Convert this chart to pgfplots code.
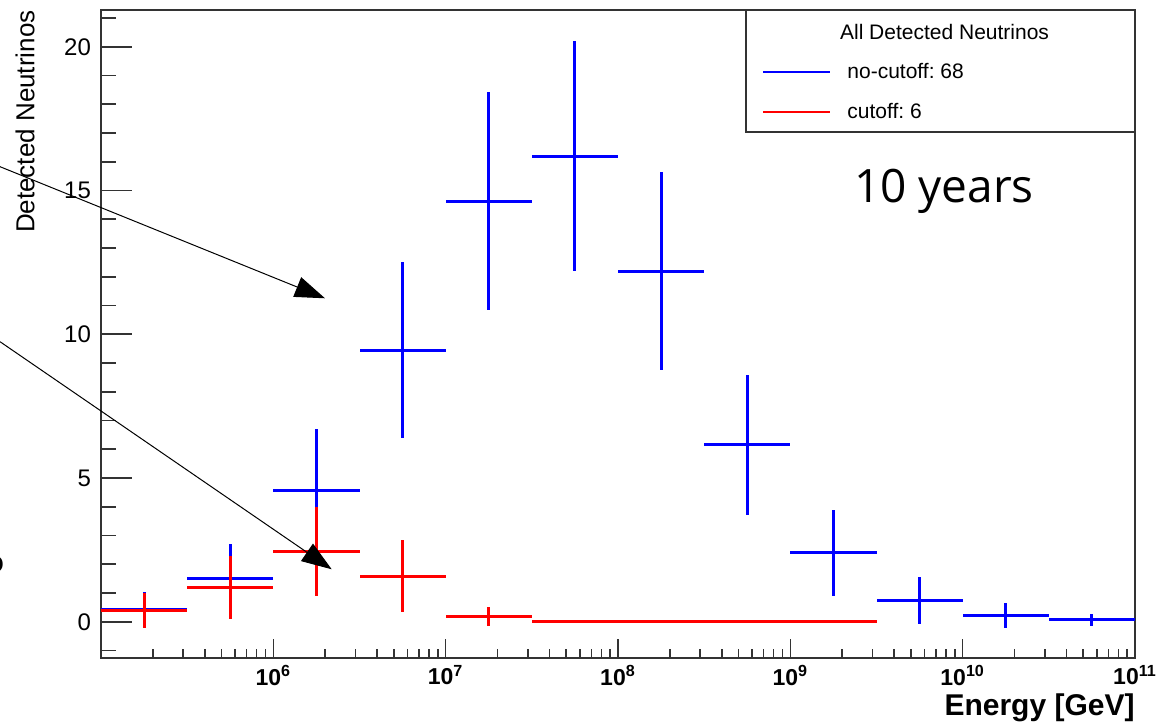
\documentclass[border=0pt]{standalone}
\usepackage{pgfplots}
\usepackage{pgfplotstable}
\pgfplotsset{compat=1.18}
\usetikzlibrary{arrows.meta}
\usepackage{fontspec}
\setmainfont{Liberation Sans}
\newfontfamily\yearsfont{Open Sans}
\frenchspacing

\pgfplotstableread{
x          y      xm          xp          ey
1.77828e5  0.44   0.77828e5   1.38400e5   0.60
5.62341e5  1.49   2.46113e5   4.37659e5   1.20
1.77828e6  4.56   0.77828e6   1.38400e6   2.13
5.62341e6  9.45   2.46113e6   4.37659e6   3.05
1.77828e7  14.63  0.77828e7   1.38400e7   3.80
5.62341e7  16.19  2.46113e7   4.37659e7   4.00
1.77828e8  12.20  0.77828e8   1.38400e8   3.45
5.62341e8  6.15   2.46113e8   4.37659e8   2.45
1.77828e9  2.40   0.77828e9   1.38400e9   1.50
5.62341e9  0.73   2.46113e9   4.37659e9   0.82
1.77828e10 0.22   0.77828e10  1.38400e10  0.44
5.62341e10 0.07   2.46113e10  4.37659e10  0.20
}\nocutoff

\pgfplotstableread{
x          y      xm          xp          ey
1.77828e5  0.38   0.77828e5   1.38400e5   0.61
5.62341e5  1.20   2.46113e5   4.37659e5   1.09
1.77828e6  2.44   0.77828e6   1.38400e6   1.54
5.62341e6  1.59   2.46113e6   4.37659e6   1.26
1.77828e7  0.19   0.77828e7   1.38400e7   0.32
5.62341e7  0.02   2.46113e7   4.37659e7   0.00
1.77828e8  0.02   0.77828e8   1.38400e8   0.00
5.62341e8  0.02   2.46113e8   4.37659e8   0.00
1.77828e9  0.02   0.77828e9   1.38400e9   0.00
}\cutoff

\begin{document}
\begin{tikzpicture}
\begin{axis}[
  scale only axis, width=517pt, height=324pt,
  xmode=log, log basis x=10,
  xmin=1e5, xmax=1e11, ymin=-1.26, ymax=21.28,
  axis line style={black!80, line width=0.8pt},
  tick align=inside, xtick pos=left, ytick pos=left,
  tick style={black!80, line width=0.8pt},
  major tick length=15.5pt, minor tick length=7.7pt,
  xtick style={/pgfplots/major tick length=9.5pt, /pgfplots/minor tick length=4.5pt},
  xtick={1e6,1e7,1e8,1e9,1e10,1e11},
  xticklabels={10\textsuperscript{6},10\textsuperscript{7},10\textsuperscript{8},10\textsuperscript{9},10\textsuperscript{10},10\textsuperscript{11}},
  minor xtick={2e5,3e5,4e5,5e5,6e5,7e5,8e5,9e5,
               2e6,3e6,4e6,5e6,6e6,7e6,8e6,9e6,
               2e7,3e7,4e7,5e7,6e7,7e7,8e7,9e7,
               2e8,3e8,4e8,5e8,6e8,7e8,8e8,9e8,
               2e9,3e9,4e9,5e9,6e9,7e9,8e9,9e9,
               2e10,3e10,4e10,5e10,6e10,7e10,8e10,9e10},
  xticklabel style={font=\fontsize{11.5}{13}\selectfont\bfseries},
  ytick={0,5,10,15,20},
  minor ytick={-1,1,2,3,4,6,7,8,9,11,12,13,14,16,17,18,19,21},
  yticklabel style={font=\fontsize{12}{14}\selectfont, xshift=-1.5pt},
  /pgf/number format/assume math mode=true,
  xlabel={Energy [GeV]},
  xlabel style={at={(axis description cs:1.0064,-0.044)}, anchor=north east, font=\fontsize{15}{17}\selectfont\bfseries},
  ylabel={Detected Neutrinos},
  ylabel style={at={(axis description cs:-0.0573,1.0103)}, anchor=south east, font=\fontsize{13}{15}\selectfont},
  legend style={at={(rel axis cs:0.6393,0.9352)}, anchor=north west, draw=none, fill=none,
     inner sep=0pt, outer sep=0pt, row sep=0pt, column sep=8pt,
     font=\fontsize{10.5}{12}\selectfont,
     nodes={minimum height=20pt, inner sep=0pt, outer sep=0pt}},
  legend cell align=left,
  legend image code/.code={\draw[#1] (0pt,0pt) -- (33.5pt,0pt);},
]
\addlegendimage{blue, line width=1.2pt}
\addlegendentry{no-cutoff: 68}
\addlegendimage{red, line width=1.2pt}
\addlegendentry{cutoff: 6}

\addplot[draw=none, mark=none, forget plot,
  error bars/.cd, x dir=both, x explicit, y dir=both, y explicit, error mark=none,
  error bar style={line width=1.5pt, draw=blue}]
  table[x=x, y=y, x error minus=xm, x error plus=xp, y error=ey] {\nocutoff};
\addplot[draw=none, mark=none, forget plot,
  error bars/.cd, x dir=both, x explicit, y dir=both, y explicit, error mark=none,
  error bar style={line width=1.5pt, draw=red}]
  table[x=x, y=y, x error minus=xm, x error plus=xp, y error=ey] {\cutoff};

\draw[black!80, line width=0.8pt] (rel axis cs:0.6238,0.8117) rectangle (rel axis cs:1,1);
\node[font=\fontsize{10.5}{12}\selectfont] at (rel axis cs:0.8158,0.966) {All Detected Neutrinos};
\node[font=\yearsfont\fontsize{23}{27}\selectfont] at (rel axis cs:0.8153,0.7207) {10 years};
\coordinate (ll) at (rel axis cs:0,0);
\coordinate (ur) at (rel axis cs:1,1);
\end{axis}
\begin{scope}[shift={(ll)}]
\draw[line width=0.5pt, -{Triangle[length=15pt,width=10.5pt]}] (-50.5pt,245.65pt) -- (112pt,179.85pt);
\draw[line width=0.5pt, -{Triangle[length=15pt,width=10.5pt]}] (-50.5pt,158.15pt) -- (115.35pt,44.35pt);
\node[anchor=east, inner sep=0pt, font=\fontsize{15}{15}\selectfont\bfseries] at (-48.3pt,46.5pt) {o};
\end{scope}
\pgfresetboundingbox
\useasboundingbox ([xshift=-50.5pt,yshift=-33.5pt]ll) rectangle ([xshift=12pt,yshift=5pt]ur);
\end{tikzpicture}
\end{document}
